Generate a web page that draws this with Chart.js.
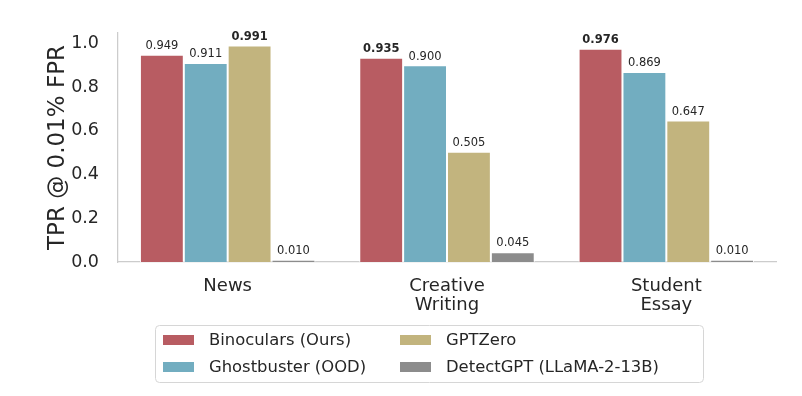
<!DOCTYPE html>
<html>
<head>
<meta charset="utf-8">
<script src="https://cdn.jsdelivr.net/npm/chart.js@4/dist/chart.umd.min.js"></script>
<style>
  html, body { margin: 0; padding: 0; background: #fff; }
  #wrap { width: 802px; height: 396px; }
</style>
</head>
<body>
<div id="wrap"><canvas id="c" width="802" height="396"></canvas></div>
<script>
// Values
const categories = [["News"], ["Creative", "Writing"], ["Student", "Essay"]];
const seriesNames = ["Binoculars (Ours)", "Ghostbuster (OOD)", "GPTZero", "DetectGPT (LLaMA-2-13B)"];
const binoculars = [0.949, 0.935, 0.976];
const ghostbuster = [0.911, 0.900, 0.869];
const gptzero = [0.991, 0.505, 0.647];
const detectgpt = [0.010, 0.045, 0.010];
const yTicks = [0.0, 0.2, 0.4, 0.6, 0.8, 1.0];

const COLORS = ["#b85c62", "#72adc0", "#c2b47e", "#8c8c8c"];
const TEXT = "#262626";
const FONT = "'DejaVu Sans', sans-serif";
const series = [binoculars, ghostbuster, gptzero, detectgpt];

// value labels above each bar, best-in-group in bold
const barLabels = {
  id: "barLabels",
  afterDatasetsDraw(chart) {
    const ctx = chart.ctx;
    ctx.save();
    ctx.fillStyle = TEXT;
    ctx.textAlign = "center";
    ctx.textBaseline = "bottom";
    categories.forEach((_, i) => {
      const best = Math.max(...series.map((s) => s[i]));
      chart.data.datasets.forEach((ds, d) => {
        const bar = chart.getDatasetMeta(d).data[i];
        const v = ds.data[i];
        ctx.font = (v === best ? "bold " : "") + "11.5px " + FONT;
        ctx.fillText(v.toFixed(3), bar.x, bar.y - 3);
      });
    });
    ctx.restore();
  },
};

// two-column boxed legend under the axis, matplotlib style
const boxLegend = {
  id: "boxLegend",
  afterDraw(chart) {
    const ctx = chart.ctx;
    const box = { x: 155.5, y: 325.5, w: 548, h: 57 };
    ctx.save();
    ctx.strokeStyle = "#d6d6d6";
    ctx.lineWidth = 1;
    ctx.beginPath();
    ctx.roundRect(box.x, box.y, box.w, box.h, 4);
    ctx.stroke();
    const cols = [163, 400];
    const rows = [340, 367];
    ctx.font = "16.4px " + FONT;
    ctx.textBaseline = "middle";
    ctx.textAlign = "left";
    // column-major order like matplotlib ncol=2
    seriesNames.forEach((name, k) => {
      const cx = cols[Math.floor(k / 2)];
      const cy = rows[k % 2];
      ctx.fillStyle = COLORS[k];
      ctx.fillRect(cx, cy - 5, 31, 10);
      ctx.fillStyle = TEXT;
      ctx.fillText(name, cx + 46, cy + 1);
    });
    ctx.restore();
  },
};

new Chart(document.getElementById("c"), {
  type: "bar",
  data: {
    labels: categories,
    datasets: seriesNames.map((name, k) => ({
      label: name,
      data: series[k],
      backgroundColor: COLORS[k],
      borderColor: "#ffffff",
      borderWidth: 1,
      borderSkipped: "bottom",
      categoryPercentage: 0.8,
      barPercentage: 1.0,
    })),
  },
  options: {
    responsive: false,
    animation: false,
    devicePixelRatio: 1,
    layout: { padding: { left: 44, right: 26, top: 33, bottom: 0 } },
    plugins: { legend: { display: false }, tooltip: { enabled: false } },
    scales: {
      x: {
        grid: { display: false },
        border: { display: true, color: "#cccccc", width: 1.25 },
        ticks: { color: TEXT, font: { family: FONT, size: 18, lineHeight: 1.1 }, padding: 6, maxRotation: 0 },
        afterFit(scale) { scale.height = 134; },
      },
      y: {
        min: 0,
        max: 1.048,
        grid: { display: false },
        border: { display: true, color: "#cccccc", width: 1.25 },
        afterBuildTicks(scale) { scale.ticks = yTicks.map((v) => ({ value: v })); },
        ticks: {
          color: TEXT,
          font: { family: FONT, size: 17.5 },
          padding: 11,
          callback: (v) => Number(v).toFixed(1),
        },
        title: {
          display: true,
          text: "TPR @ 0.01% FPR",
          color: TEXT,
          font: { family: FONT, size: 23 },
          padding: { top: 0, bottom: 4 },
        },
        afterFit(scale) { scale.width = 74; },
      },
    },
  },
  plugins: [barLabels, boxLegend],
});
</script>
</body>
</html>
